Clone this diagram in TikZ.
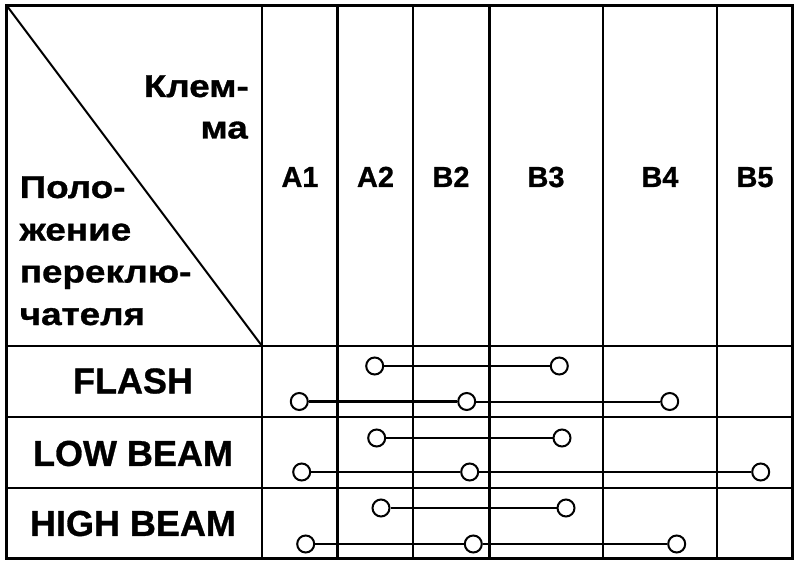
\documentclass[tikz,border=0pt]{standalone}
\usepackage{fontspec}
\setmainfont{Liberation Sans}
\newfontfamily\cyrfont[FakeStretch=1.17,FakeBold=1]{Liberation Sans Bold}
\newfontfamily\latfont[FakeBold=0.8]{Liberation Sans Bold}
\begin{document}
\begin{tikzpicture}[x=1pt,y=-1pt,
  gridthin/.style={line width=2pt},
  gridthick/.style={line width=2.8pt},
  border/.style={line width=2.5pt},
  term/.style={circle,draw,line width=2pt,fill=white,minimum size=17pt,inner sep=0pt},
  wire/.style={line width=2pt},
  wirethick/.style={line width=2.8pt},
  cyr/.style={inner sep=0pt,font=\cyrfont\fontsize{31.5}{36}\selectfont},
  hdr/.style={inner sep=0pt,font=\latfont\fontsize{29}{34}\selectfont},
  rowlab/.style={inner sep=0pt,font=\latfont\fontsize{36}{40}\selectfont}]
\fill[white] (0,0) rectangle (798,564);
\useasboundingbox (0,0) rectangle (798,564);
% grid
\draw[border] (6.5,5.5) rectangle (792.5,558.5);
\draw[gridthin] (6.5,346) -- (792.5,346);
\draw[gridthin] (6.5,417) -- (792.5,417);
\draw[gridthin] (6.5,488) -- (792.5,488);
\draw[gridthin] (262,5.5) -- (262,558.5);
\draw[gridthick] (337.7,5.5) -- (337.7,558.5);
\draw[gridthick] (413,5.5) -- (413,558.5);
\draw[gridthick] (489.3,5.5) -- (489.3,558.5);
\draw[gridthin] (602.7,5.5) -- (602.7,558.5);
\draw[gridthin] (716.7,5.5) -- (716.7,558.5);
\draw[gridthin] (7,6) -- (262,346);
% header texts
\node[cyr,anchor=base east] (k1) at (249,97) {Клем-};
\node[cyr,anchor=base east] (k2) at (248,138.5) {ма};
\node[cyr,anchor=base west] (p1) at (19.5,198) {Поло-};
\node[cyr,anchor=base west] (p2) at (19.5,240.5) {жение};
\node[cyr,anchor=base west] (p3) at (19.5,282.5) {переклю-};
\node[cyr,anchor=base west] (p4) at (19.5,325) {чателя};
\node[hdr,anchor=base] (hA1) at (300,187) {A1};
\node[hdr,anchor=base] (hA2) at (375.5,187) {A2};
\node[hdr,anchor=base] (hB2) at (451,187) {B2};
\node[hdr,anchor=base] (hB3) at (546,187) {B3};
\node[hdr,anchor=base] (hB4) at (660,187) {B4};
\node[hdr,anchor=base] (hB5) at (755,187) {B5};
% row labels
\node[rowlab] (rf) at (133,381) {FLASH};
\node[rowlab] (rl) at (133,453.5) {LOW BEAM};
\node[rowlab] (rh) at (133,523.5) {HIGH BEAM};
% terminals FLASH
\node[term] (fa) at (374.7,366) {};
\node[term] (fb) at (559.3,366) {};
\node[term] (fc) at (299.3,401.5) {};
\node[term] (fd) at (466.7,401.5) {};
\node[term] (fe) at (669.7,401.5) {};
% LOW BEAM
\node[term] (la) at (376.7,438) {};
\node[term] (lb) at (562,438) {};
\node[term] (lc) at (301.7,472) {};
\node[term] (ld) at (469.7,472) {};
\node[term] (le) at (760.7,472) {};
% HIGH BEAM
\node[term] (ha) at (381,508) {};
\node[term] (hb) at (566,508) {};
\node[term] (hc) at (305.7,544) {};
\node[term] (hd) at (473.3,544) {};
\node[term] (he) at (676.7,544) {};
% wires
\draw[wire] (fa) -- (fb);
\draw[wirethick] (fc) -- (fd);
\draw[wire] (fd) -- (fe);
\draw[wire] (la) -- (lb);
\draw[wirethick] (lc) -- (ld);
\draw[wire] (ld) -- (le);
\draw[wire] (ha) -- (hb);
\draw[wirethick] (hc) -- (hd);
\draw[wirethick] (hd) -- (he);
\end{tikzpicture}
\end{document}
